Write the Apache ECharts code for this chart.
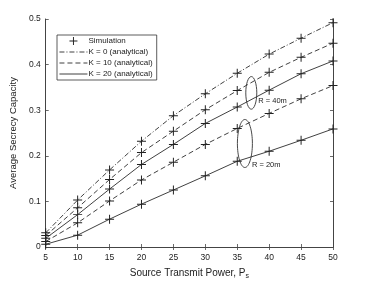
<!DOCTYPE html>
<html><head><meta charset="utf-8">
<script src="https://cdn.jsdelivr.net/npm/echarts@6/dist/echarts.min.js"></script>
<style>html,body{margin:0;padding:0;background:#fff}#c{width:379px;height:285px}</style>
</head><body><div id="c"></div>
<script>
const powers = [5,10,15,20,25,30,35,40,45,50];
const k0R40  = [0.031,0.103,0.169,0.232,0.288,0.336,0.381,0.423,0.458,0.492];
const k10R40 = [0.025,0.086,0.148,0.207,0.254,0.301,0.343,0.383,0.416,0.447];
const k20R40 = [0.019,0.071,0.127,0.181,0.225,0.271,0.307,0.344,0.380,0.408];
const k10R20 = [0.012,0.053,0.101,0.147,0.186,0.225,0.260,0.293,0.325,0.354];
const k20R20 = [0.006,0.026,0.061,0.094,0.125,0.156,0.188,0.210,0.234,0.259];
const yTicks = ['0','0.1','0.2','0.3','0.4','0.5'];
const names = ['Simulation','K = 0 (analytical)','K = 10 (analytical)','K = 20 (analytical)'];

const C = '#222';
const FONT = 'Liberation Sans, Arial, sans-serif';
const plus = 'path://M-0.11,-1H0.11V-0.11H1V0.11H0.11V1H-0.11V0.11H-1V-0.11H-0.11Z';
const plusWide = 'path://M-3.5,0M3.5,0M-0.12,-1H0.12V-0.12H1V0.12H0.12V1H-0.12V0.12H-1V-0.12H-0.12Z';
const pair = arr => powers.map((p,i)=>[p,arr[i]]);
const dashDot = [5,2,1,2];
const dashed = [5,3];

function lineSeries(name, arr, type){
  return {name, type:'line', data:pair(arr), symbol:'none', silent:true,
    lineStyle:{color:'#2b2b2b', width:0.9, type}, itemStyle:{color:'#2b2b2b'}, z:2};
}
const simData = [].concat(pair(k0R40),pair(k10R40),pair(k20R40),pair(k10R20),pair(k20R20));

const chart = echarts.init(document.getElementById('c'), null, {renderer:'canvas'});
const axisCommon = {
  axisLine:{show:true,lineStyle:{color:'#444',width:1}},
  axisTick:{show:true,inside:true,length:3,lineStyle:{color:'#444',width:0.8}},
  splitLine:{show:false}
};
const legendData = [
  {name:names[0], icon:plusWide},
  {name:names[1], itemStyle:{opacity:0, borderWidth:0}, lineStyle:{width:0.9}},
  {name:names[2], itemStyle:{opacity:0, borderWidth:0}, lineStyle:{width:0.9}},
  {name:names[3], itemStyle:{opacity:0, borderWidth:0}, lineStyle:{width:0.9}}
];
chart.setOption({
  animation:false,
  grid:{left:39,right:46,top:19,bottom:37,containLabel:false},
  xAxis:[
    Object.assign({type:'value',min:5,max:50,interval:5,position:'bottom',
      name:'Source Transmit Power, {s|P}{sub|s}', nameLocation:'middle', nameGap:19,
      nameTextStyle:{color:'#222',fontSize:10,fontFamily:FONT,
        rich:{s:{fontSize:10,fontFamily:FONT,color:'#222'},sub:{fontSize:7,fontFamily:FONT,color:'#222',padding:[7,0,0,0]}}},
      axisLabel:{color:'#222',fontSize:8.5,fontFamily:FONT,margin:6}}, axisCommon),
    Object.assign({type:'value',min:5,max:50,interval:5,position:'top',axisLabel:{show:false}}, axisCommon)
  ],
  yAxis:[
    Object.assign({type:'value',min:0,max:0.5,interval:0.1,position:'left',
      name:'Average Secrecy Capacity', nameLocation:'middle', nameGap:25,
      nameTextStyle:{color:'#222',fontSize:9.5,fontFamily:FONT},
      axisLabel:{color:'#222',fontSize:8.5,fontFamily:FONT,margin:5,
        formatter:(v)=>yTicks[Math.round(v*10)]}}, axisCommon),
    Object.assign({type:'value',min:0,max:0.5,interval:0.1,position:'right',axisLabel:{show:false}}, axisCommon)
  ],
  legend:{
    orient:'vertical', left:57, top:35, data:legendData,
    backgroundColor:'#fff', borderColor:'#333', borderWidth:0.8, borderRadius:0,
    padding:[2,4,2,2], itemWidth:28, itemHeight:8, itemGap:3,
    textStyle:{color:'#222',fontSize:8,fontFamily:FONT,padding:[0,0,0,-4]},
    selectedMode:false
  },
  series:[
    {name:names[0], type:'scatter', data:simData, symbol:plus, symbolSize:9,
      itemStyle:{color:C, opacity:1}, z:3, silent:true},
    lineSeries(names[1], k0R40, dashDot),
    lineSeries(names[2], k10R40, dashed),
    lineSeries(names[3], k20R40, 'solid'),
    lineSeries(names[2], k10R20, dashed),
    lineSeries(names[3], k20R20, 'solid')
  ]
});

// annotations (ellipses and labels) positioned in data coordinates
const annots = [
  {cx:37.2, cy:0.338, rx:5.5, ry:16.3, label:'R = 40m', lx:38.3, ly:0.320},
  {cx:36.2, cy:0.227, rx:7.5, ry:24, label:'R = 20m', lx:37.3, ly:0.179}
];
const gfx = [];
annots.forEach(a=>{
  const c = chart.convertToPixel({gridIndex:0},[a.cx,a.cy]);
  const l = chart.convertToPixel({gridIndex:0},[a.lx,a.ly]);
  gfx.push({type:'ellipse', shape:{cx:c[0],cy:c[1],rx:a.rx,ry:a.ry},
    style:{fill:'none',stroke:'#333',lineWidth:0.9}, z:10, silent:true});
  gfx.push({type:'text', x:l[0], y:l[1],
    style:{text:a.label, fill:'#222', font:'7.5px '+FONT, textVerticalAlign:'middle', verticalAlign:'middle'}, z:10, silent:true});
});
chart.setOption({graphic:gfx});
</script></body></html>
